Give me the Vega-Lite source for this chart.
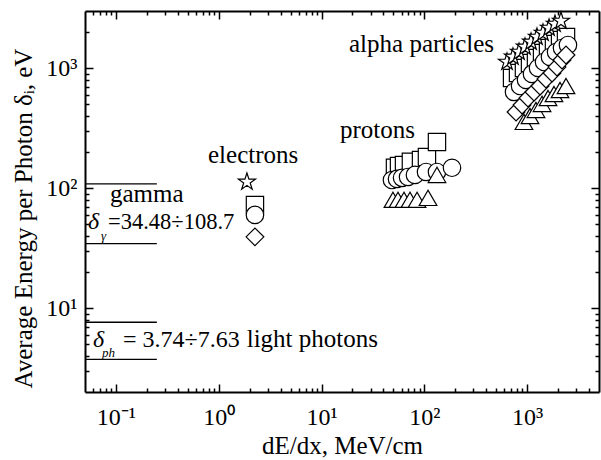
{
  "$schema": "https://vega.github.io/schema/vega-lite/v6.json",
  "width": 514,
  "height": 381,
  "autosize": {"type": "none"},
  "padding": {"left": 85, "top": 11, "right": 2, "bottom": 68},
  "background": "white",
  "config": {
    "view": {"stroke": null},
    "axis": {
      "grid": false,
      "labelFont": "Liberation Serif",
      "titleFont": "Liberation Serif",
      "labelFontSize": 24,
      "titleFontSize": 25,
      "titleFontWeight": "normal",
      "labelColor": "black",
      "titleColor": "black",
      "domainColor": "black",
      "tickColor": "black",
      "domainWidth": 2,
      "tickWidth": 1.5
    },
    "text": {"font": "Liberation Serif", "color": "black"}
  },
  "datasets": {
    "points": [
      {"x": 2.25, "y": 72.5, "s": "square"},
      {"x": 51.8, "y": 148, "s": "square"},
      {"x": 56.7, "y": 153, "s": "square"},
      {"x": 63.4, "y": 156, "s": "square"},
      {"x": 74, "y": 166, "s": "square"},
      {"x": 92.8, "y": 172, "s": "square"},
      {"x": 106, "y": 182, "s": "square"},
      {"x": 132.7, "y": 243, "s": "square"},
      {"x": 713, "y": 829, "s": "square"},
      {"x": 815, "y": 913, "s": "square"},
      {"x": 931, "y": 1005, "s": "square"},
      {"x": 1066, "y": 1106, "s": "square"},
      {"x": 1219, "y": 1217, "s": "square"},
      {"x": 1396, "y": 1340, "s": "square"},
      {"x": 1596, "y": 1475, "s": "square"},
      {"x": 1824, "y": 1593, "s": "square"},
      {"x": 2089, "y": 1720, "s": "square"},
      {"x": 2388, "y": 1821, "s": "square"},
      {"x": 2.25, "y": 59.9, "s": "circle"},
      {"x": 48.4, "y": 117, "s": "circle"},
      {"x": 54.2, "y": 119.5, "s": "circle"},
      {"x": 60.7, "y": 122, "s": "circle"},
      {"x": 69.4, "y": 124, "s": "circle"},
      {"x": 81, "y": 129, "s": "circle"},
      {"x": 103.8, "y": 136.5, "s": "circle"},
      {"x": 132.7, "y": 136.5, "s": "circle"},
      {"x": 185.8, "y": 148, "s": "circle"},
      {"x": 745, "y": 634, "s": "circle"},
      {"x": 853, "y": 711, "s": "circle"},
      {"x": 975, "y": 798, "s": "circle"},
      {"x": 1114, "y": 896, "s": "circle"},
      {"x": 1276, "y": 1005, "s": "circle"},
      {"x": 1459, "y": 1127, "s": "circle"},
      {"x": 1667, "y": 1241, "s": "circle"},
      {"x": 1910, "y": 1365, "s": "circle"},
      {"x": 2183, "y": 1475, "s": "circle"},
      {"x": 2495, "y": 1562, "s": "circle"},
      {"x": 49.5, "y": 80, "s": "triangle"},
      {"x": 55.4, "y": 80, "s": "triangle"},
      {"x": 63.4, "y": 80, "s": "triangle"},
      {"x": 72.5, "y": 80, "s": "triangle"},
      {"x": 84.9, "y": 80, "s": "triangle"},
      {"x": 108.6, "y": 83, "s": "triangle"},
      {"x": 132.7, "y": 129, "s": "triangle"},
      {"x": 931, "y": 357, "s": "triangle"},
      {"x": 1066, "y": 400, "s": "triangle"},
      {"x": 1219, "y": 449, "s": "triangle"},
      {"x": 1396, "y": 504, "s": "triangle"},
      {"x": 1596, "y": 565, "s": "triangle"},
      {"x": 1824, "y": 610, "s": "triangle"},
      {"x": 2089, "y": 659, "s": "triangle"},
      {"x": 2388, "y": 711, "s": "triangle"},
      {"x": 2.25, "y": 39.3, "s": "diamond"},
      {"x": 780, "y": 432, "s": "diamond"},
      {"x": 892, "y": 494, "s": "diamond"},
      {"x": 1019, "y": 565, "s": "diamond"},
      {"x": 1166, "y": 634, "s": "diamond"},
      {"x": 1334, "y": 711, "s": "diamond"},
      {"x": 1524, "y": 814, "s": "diamond"},
      {"x": 1746, "y": 913, "s": "diamond"},
      {"x": 1950, "y": 1024, "s": "diamond"},
      {"x": 2183, "y": 1172, "s": "diamond"},
      {"x": 2388, "y": 1290, "s": "diamond"},
      {"x": 1.88, "y": 112.7, "s": "star"},
      {"x": 637, "y": 1127, "s": "star"},
      {"x": 728, "y": 1241, "s": "star"},
      {"x": 834, "y": 1365, "s": "star"},
      {"x": 953, "y": 1504, "s": "star"},
      {"x": 1091, "y": 1655, "s": "star"},
      {"x": 1247, "y": 1821, "s": "star"},
      {"x": 1426, "y": 1967, "s": "star"},
      {"x": 1633, "y": 2165, "s": "star"},
      {"x": 1866, "y": 2337, "s": "star"},
      {"x": 2133, "y": 2476, "s": "star"}
    ],
    "lines": [
      {"x": 0.05, "x2": 0.25, "y": 108.7},
      {"x": 0.05, "x2": 0.25, "y": 34.48},
      {"x": 0.05, "x2": 0.25, "y": 7.63},
      {"x": 0.05, "x2": 0.25, "y": 3.74}
    ],
    "notes": [
      {"x": 18.5, "y": 1365, "t": "alpha particles"},
      {"x": 15.1, "y": 262, "t": "protons"},
      {"x": 0.786, "y": 162.3, "t": "electrons"},
      {"x": 0.0875, "y": 76.8, "t": "gamma"},
      {"x": 1.87, "y": 4.786, "t": "light photons"}
    ],
    "notes2": [
      {"x": 0.0837, "y": 45.8, "t": "=34.48÷108.7"}
    ],
    "notes3": [
      {"x": 0.117, "y": 4.786, "t": "= 3.74÷7.63"}
    ],
    "deltas": [
      {"x": 0.0535, "y": 45.8, "t": "δ"},
      {"x": 0.0598, "y": 4.786, "t": "δ"}
    ],
    "subs": [
      {"x": 0.0716, "y": 37.0, "t": "γ"},
      {"x": 0.0732, "y": 3.93, "t": "ph"}
    ]
  },
  "layer": [
    {
      "data": {"name": "points"},
      "mark": {"type": "point", "filled": true, "fill": "white", "stroke": "black", "strokeWidth": 1.2, "opacity": 1},
      "encoding": {
        "x": {
          "field": "x", "type": "quantitative",
          "scale": {"type": "log", "domain": [0.05, 5000], "nice": false},
          "axis": {
            "orient": "bottom", "values": [0.1, 1, 10, 100, 1000], "ticks": false,
            "labelExpr": "datum.value < 0.5 ? '10⁻¹' : datum.value < 5 ? '10⁰' : datum.value < 50 ? '10¹' : datum.value < 500 ? '10²' : '10³'",
            "labelPadding": 13, "title": "dE/dx, MeV/cm", "titlePadding": 4
          }
        },
        "y": {
          "field": "y", "type": "quantitative",
          "scale": {"type": "log", "domain": [2, 3000], "nice": false},
          "axis": {
            "orient": "left", "values": [10, 100, 1000], "ticks": false,
            "labelExpr": "datum.value < 50 ? '10¹' : datum.value < 500 ? '10²' : '10³'",
            "labelPadding": 8, "title": "Average Energy per Photon δᵢ, eV",
            "titleX": -49, "titleY": 207, "titleBaseline": "bottom", "titleAngle": 270, "titleAlign": "center"
          }
        },
        "shape": {
          "field": "s", "type": "nominal",
          "scale": {"domain": ["square", "circle", "triangle", "diamond", "star"], "range": ["square", "circle", "triangle-up", "diamond", "M0,-1L0.2245,-0.309L0.951,-0.309L0.3633,0.118L0.588,0.809L0,0.382L-0.588,0.809L-0.3633,0.118L-0.951,-0.309L-0.2245,-0.309Z"]},
          "legend": null
        },
        "size": {
          "field": "s", "type": "nominal",
          "scale": {"domain": ["square", "circle", "triangle", "diamond", "star"], "range": [300, 320, 500, 500, 480]},
          "legend": null
        }
      }
    },
    {
      "data": {"name": "lines"},
      "mark": {"type": "rule", "stroke": "black", "strokeWidth": 1.3},
      "encoding": {
        "x": {
          "field": "x", "type": "quantitative",
          "scale": {"type": "log", "domain": [0.05, 5000], "nice": false},
          "axis": {"orient": "bottom", "values": [0.1, 1, 10, 100, 1000], "tickSize": -8, "labels": false, "domain": false, "title": null}
        },
        "x2": {"field": "x2"},
        "y": {
          "field": "y", "type": "quantitative",
          "scale": {"type": "log", "domain": [2, 3000], "nice": false},
          "axis": {"orient": "left", "values": [10, 100, 1000], "tickSize": -8, "labels": false, "domain": false, "title": null}
        }
      }
    },
    {
      "data": {"name": "notes"},
      "mark": {"type": "text", "align": "left", "baseline": "alphabetic", "fontSize": 25},
      "encoding": {
        "x": {
          "field": "x", "type": "quantitative",
          "scale": {"type": "log", "domain": [0.05, 5000], "nice": false},
          "axis": {"orient": "bottom", "values": [0.06, 0.07, 0.08, 0.09, 0.2, 0.3, 0.4, 0.5, 0.6, 0.7, 0.8, 0.9, 2, 3, 4, 5, 6, 7, 8, 9, 20, 30, 40, 50, 60, 70, 80, 90, 200, 300, 400, 500, 600, 700, 800, 900, 2000, 3000, 4000], "tickSize": -4, "labels": false, "domain": false, "title": null}
        },
        "y": {
          "field": "y", "type": "quantitative",
          "scale": {"type": "log", "domain": [2, 3000], "nice": false},
          "axis": {"orient": "left", "values": [3, 4, 5, 6, 7, 8, 9, 20, 30, 40, 50, 60, 70, 80, 90, 200, 300, 400, 500, 600, 700, 800, 900, 2000], "tickSize": -4, "labels": false, "domain": false, "title": null}
        },
        "text": {"field": "t"}
      }
    },
    {
      "data": {"name": "notes2"},
      "mark": {"type": "text", "align": "left", "baseline": "alphabetic", "fontSize": 22.5},
      "encoding": {
        "x": {"field": "x", "type": "quantitative", "scale": {"type": "log", "domain": [0.05, 5000], "nice": false}, "axis": null},
        "y": {"field": "y", "type": "quantitative", "scale": {"type": "log", "domain": [2, 3000], "nice": false}, "axis": null},
        "text": {"field": "t"}
      }
    },
    {
      "data": {"name": "notes3"},
      "mark": {"type": "text", "align": "left", "baseline": "alphabetic", "fontSize": 24},
      "encoding": {
        "x": {"field": "x", "type": "quantitative", "scale": {"type": "log", "domain": [0.05, 5000], "nice": false}, "axis": null},
        "y": {"field": "y", "type": "quantitative", "scale": {"type": "log", "domain": [2, 3000], "nice": false}, "axis": null},
        "text": {"field": "t"}
      }
    },
    {
      "data": {"name": "deltas"},
      "mark": {"type": "text", "align": "left", "baseline": "alphabetic", "fontSize": 24, "fontStyle": "italic"},
      "encoding": {
        "x": {
          "field": "x", "type": "quantitative",
          "scale": {"type": "log", "domain": [0.05, 5000], "nice": false},
          "axis": {"orient": "top", "values": [0.1, 1, 10, 100, 1000], "tickSize": -8, "labels": false, "domain": true, "title": null}
        },
        "y": {
          "field": "y", "type": "quantitative",
          "scale": {"type": "log", "domain": [2, 3000], "nice": false},
          "axis": {"orient": "right", "values": [10, 100, 1000], "tickSize": -8, "labels": false, "domain": true, "title": null}
        },
        "text": {"field": "t"}
      }
    },
    {
      "data": {"name": "subs"},
      "mark": {"type": "text", "align": "left", "baseline": "alphabetic", "fontSize": 13, "fontStyle": "italic"},
      "encoding": {
        "x": {
          "field": "x", "type": "quantitative",
          "scale": {"type": "log", "domain": [0.05, 5000], "nice": false},
          "axis": {"orient": "top", "values": [0.06, 0.07, 0.08, 0.09, 0.2, 0.3, 0.4, 0.5, 0.6, 0.7, 0.8, 0.9, 2, 3, 4, 5, 6, 7, 8, 9, 20, 30, 40, 50, 60, 70, 80, 90, 200, 300, 400, 500, 600, 700, 800, 900, 2000, 3000, 4000], "tickSize": -4, "labels": false, "domain": false, "title": null}
        },
        "y": {
          "field": "y", "type": "quantitative",
          "scale": {"type": "log", "domain": [2, 3000], "nice": false},
          "axis": {"orient": "right", "values": [3, 4, 5, 6, 7, 8, 9, 20, 30, 40, 50, 60, 70, 80, 90, 200, 300, 400, 500, 600, 700, 800, 900, 2000], "tickSize": -4, "labels": false, "domain": false, "title": null}
        },
        "text": {"field": "t"}
      }
    }
  ],
  "resolve": {"axis": {"x": "independent", "y": "independent"}}
}
